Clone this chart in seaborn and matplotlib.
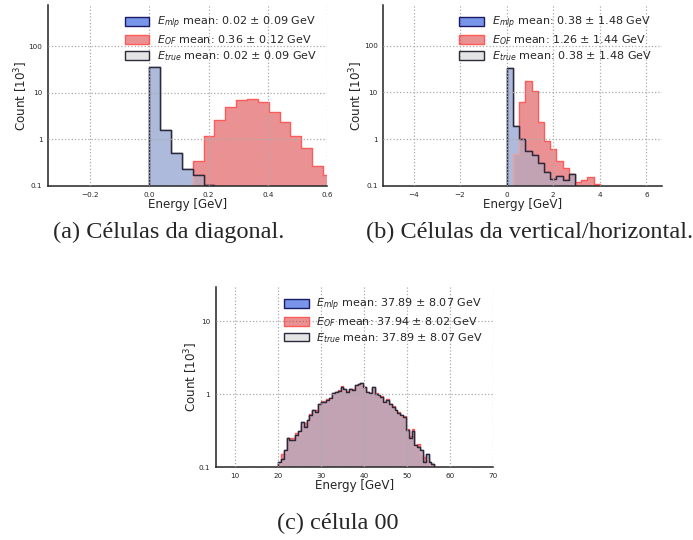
import numpy as np
import pandas as pd
import matplotlib
matplotlib.use("Agg")
import matplotlib.pyplot as plt
from matplotlib.patches import Patch
from matplotlib.ticker import FixedLocator, FixedFormatter, NullLocator
import seaborn as sns

sns.set_style("white")
plt.rcParams["font.family"] = ["DejaVu Sans"]
plt.rcParams["mathtext.fontset"] = "dejavusans"

# ---------------- data (counts in units of 10^3) ----------------
# (a) diagonal cells
edges_a_start, edges_a_width, edges_a_n = 0.0, 0.03667, 17
mlp_a = [37.0, 1.6, 0.52, 0.23, 0.176, 0.107]
of_a_first_bin = 4
of_a = [0.34, 1.2, 2.6, 4.9, 7.2, 7.55, 6.3, 3.96, 2.33, 1.18, 0.67, 0.27, 0.176]
true_a = [37.0, 1.6, 0.52, 0.23, 0.176, 0.107]
leg_a = ["0.02 ± 0.09", "0.36 ± 0.12", "0.02 ± 0.09"]

# (b) vertical/horizontal cells
edges_b_start, edges_b_width, edges_b_n = 0.0, 0.26667, 15
mlp_b = [34.0, 1.95, 1.0, 0.57, 0.45, 0.315, 0.195, 0.142, 0.16, 0.135, 0.177]
of_b_first_bin = 1
of_b = [0.48, 6.4, 17.3, 10.5, 2.35, 0.92, 0.62, 0.35, 0.245, 0.185, 0.12, 0.135, 0.155, 0.11]
true_b = [34.0, 1.95, 1.0, 0.57, 0.45, 0.315, 0.195, 0.142, 0.16, 0.135, 0.177]
leg_b = ["0.38 ± 1.48", "1.26 ± 1.44", "0.38 ± 1.48"]

# (c) cell 00
edges_c_start, edges_c_width, edges_c_n = 20.0, 0.66, 55
mlp_c = [0.12, 0.13, 0.17, 0.25, 0.24, 0.24, 0.28, 0.31, 0.42, 0.36,
         0.44, 0.52, 0.61, 0.58, 0.75, 0.78, 0.79, 0.85, 0.88, 1.03,
         1.09, 1.12, 1.27, 1.17, 1.09, 1.20, 1.15, 1.34, 1.37, 1.44,
         1.25, 1.09, 1.03, 1.27, 1.00, 0.98, 0.93, 0.79, 0.83, 0.75,
         0.68, 0.61, 0.55, 0.52, 0.49, 0.32, 0.25, 0.31, 0.20, 0.19,
         0.17, 0.12, 0.15, 0.12, 0.11]
of_c = [0.11, 0.15, 0.16, 0.25, 0.25, 0.25, 0.30, 0.29, 0.38, 0.40,
        0.43, 0.54, 0.59, 0.62, 0.73, 0.80, 0.78, 0.87, 0.86, 1.06,
        1.07, 1.15, 1.32, 1.13, 1.12, 1.18, 1.17, 1.30, 1.40, 1.40,
        1.28, 1.05, 1.06, 1.22, 1.03, 0.95, 0.96, 0.77, 0.86, 0.73,
        0.70, 0.59, 0.57, 0.50, 0.51, 0.34, 0.27, 0.33, 0.19, 0.21,
        0.15, 0.14, 0.13, 0.10, 0.11]
true_c = list(mlp_c)
leg_c = ["37.89 ± 8.07", "37.94 ± 8.02", "37.89 ± 8.07"]

captions = ["(a) Células da diagonal.", "(b) Células da vertical/horizontal.", "(c) célula 00"]

# ---------------- style ----------------
C_MLP_FACE = matplotlib.colors.to_rgba("royalblue", 0.7)
C_MLP_EDGE = "#1a1a66"
C_OF_FACE = matplotlib.colors.to_rgba("#d62728", 0.5)
C_OF_EDGE = "#ff5a5a"
C_TR_FACE = matplotlib.colors.to_rgba("lightgrey", 0.6)
C_TR_EDGE = "#2a2a3a"

fig = plt.figure(figsize=(6.93, 5.40), dpi=100)

W, H = 693.0, 540.0
def box(x0, y0, x1, y1):
    return [x0 / W, 1 - y1 / H, (x1 - x0) / W, (y1 - y0) / H]

ax_a = fig.add_axes(box(48, 5, 327, 186))
ax_b = fig.add_axes(box(383.3, 5, 661.7, 186))
ax_c = fig.add_axes(box(215.7, 286.7, 493.3, 467.3))


def one_hist(ax, edges, first, counts, face, edge):
    centers = [0.5 * (edges[i] + edges[i + 1]) for i in range(first, first + len(counts))]
    df = pd.DataFrame({"E": centers, "w": counts})
    sns.histplot(data=df, x="E", weights="w", bins=list(edges), element="step", fill=True,
                 facecolor=face, edgecolor=edge, linewidth=1.0, ax=ax)


def draw(ax, start, width, n, mlp, of, of_first, true, leg, xlim, ylim, xticks, xticklabels, yticks, ytl):
    edges = [float(start + width * i) for i in range(n + 1)]
    ax.set_yscale("log")
    one_hist(ax, edges, 0, mlp, C_MLP_FACE, C_MLP_EDGE)
    one_hist(ax, edges, of_first, of, C_OF_FACE, C_OF_EDGE)
    one_hist(ax, edges, 0, true, C_TR_FACE, C_TR_EDGE)
    ax.set_xlim(*xlim)
    ax.set_ylim(*ylim)
    ax.xaxis.set_major_locator(FixedLocator(xticks))
    ax.xaxis.set_major_formatter(FixedFormatter(xticklabels))
    ax.yaxis.set_major_locator(FixedLocator(yticks))
    ax.yaxis.set_major_formatter(FixedFormatter(ytl))
    ax.yaxis.set_minor_locator(NullLocator())
    ax.tick_params(axis="both", labelsize=5.2, length=2.5, width=0.8, pad=1.5)
    ax.grid(True, linestyle=":", color="#aaaaaa", linewidth=0.9)
    ax.set_axisbelow(False)
    for s in ["top", "right"]:
        ax.spines[s].set_visible(False)
    for s in ["left", "bottom"]:
        ax.spines[s].set_color("#222222")
        ax.spines[s].set_linewidth(1.1)
    ax.set_xlabel("Energy [GeV]", fontsize=8.6, labelpad=0)
    ax.set_ylabel(r"Count [$10^3$]", fontsize=8.6, labelpad=-1)
    handles = [Patch(facecolor=C_MLP_FACE, edgecolor=C_MLP_EDGE),
               Patch(facecolor=C_OF_FACE, edgecolor=C_OF_EDGE),
               Patch(facecolor=C_TR_FACE, edgecolor=C_TR_EDGE)]
    labels = [r"$E_{mlp}$ mean: " + leg[0] + " GeV",
              r"$E_{OF}$ mean: " + leg[1] + " GeV",
              r"$E_{true}$ mean: " + leg[2] + " GeV"]
    ax.legend(handles, labels, loc="upper right", frameon=False, fontsize=8.0,
              handlelength=2.2, handleheight=0.85, labelspacing=0.18, borderaxespad=0.5,
              handletextpad=0.7)


draw(ax_a, edges_a_start, edges_a_width, edges_a_n, mlp_a, of_a, of_a_first_bin, true_a, leg_a,
     (-0.342, 0.6), (0.1, 780), [-0.2, 0.0, 0.2, 0.4, 0.6], ["\u22120.2", "0.0", "0.2", "0.4", "0.6"],
     [0.1, 1, 10, 100], ["0.1", "1", "10", "100"])
draw(ax_b, edges_b_start, edges_b_width, edges_b_n, mlp_b, of_b, of_b_first_bin, true_b, leg_b,
     (-5.3, 6.66), (0.1, 740), [-4, -2, 0, 2, 4, 6], ["\u22124", "\u22122", "0", "2", "4", "6"],
     [0.1, 1, 10, 100], ["0.1", "1", "10", "100"])
draw(ax_c, edges_c_start, edges_c_width, edges_c_n, mlp_c, of_c, 0, true_c, leg_c,
     (5.5, 70), (0.1, 30), [10, 20, 30, 40, 50, 60, 70], ["10", "20", "30", "40", "50", "60", "70"],
     [0.1, 1, 10], ["0.1", "1", "10"])

cap_kw = dict(fontsize=17.5, family=["Liberation Serif", "DejaVu Serif"], ha="center", va="center")
fig.text(169 / W, 1 - 232 / H, captions[0], **cap_kw)
fig.text(530 / W, 1 - 232 / H, captions[1], **cap_kw)
fig.text(338 / W, 1 - 523 / H, captions[2], **cap_kw)

fig.savefig("out.png", dpi=100)
